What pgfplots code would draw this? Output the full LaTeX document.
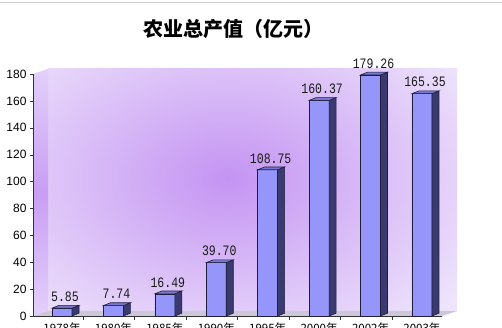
\documentclass[border=0pt]{standalone}
\usepackage{pgfplots}
\pgfplotsset{compat=1.18}
\usepackage{graphicx}
\usepackage{fontspec}
\setmainfont{Liberation Sans}
\newfontfamily\cjk{Noto Sans CJK SC}
\newfontfamily\mono{Liberation Mono}
\definecolor{barfront}{RGB}{150,150,250}
\definecolor{barside}{RGB}{58,58,112}
\definecolor{bartop}{RGB}{120,120,210}
\definecolor{baredge}{RGB}{30,30,60}
\definecolor{wallbase}{RGB}{238,228,252}
\definecolor{wallglow}{RGB}{196,148,242}
\definecolor{sidewall}{RGB}{226,208,250}
\definecolor{floorc}{RGB}{205,200,215}
\pgfdeclareplotmark{blank}{}
\pgfplotstableread{
x y
0 5.85
1 7.74
2 16.49
3 39.70
4 108.75
5 160.37
6 179.26
7 165.35
}\datatab
\begin{document}
\begin{tikzpicture}[x=1pt,y=1pt]
\path[use as bounding box] (0,0) rectangle (502,328);
\fill[white] (0,0) rectangle (502,328);
\draw[gray!35] (0,325.5) -- (502,325.5);
\node[font=\cjk\bfseries\fontsize{20}{22}\selectfont] at (233,299.5) {农业总产值（亿元）};
% back wall
\fill[wallbase] (48,17) rectangle (457,259);
\begin{scope}
\clip (48,17) rectangle (457,259);
\shade[inner color=wallglow, outer color=wallbase] (228,150) ellipse [x radius=290, y radius=190];
\end{scope}
% left wall
\shade[top color=sidewall, bottom color=sidewall, middle color=wallglow!85!sidewall] (33,12) -- (48,17) -- (48,259) -- (33,254) -- cycle;
% floor
\fill[floorc] (33,12) -- (442,12) -- (457,17) -- (48,17) -- cycle;
\begin{axis}[
  at={(33pt,12pt)}, anchor=south west,
  scale only axis, width=409pt, height=242pt,
  xmin=-0.564, xmax=7.39, ymin=0, ymax=180,
  axis lines*=left,
  axis line style={black!80},
  /pgf/number format/assume math mode=true,
  ytick={0,20,...,180},
  yticklabel style={font=\fontsize{12}{13}\selectfont},
  xtick={0,...,7},
  xticklabels={1978年,1980年,1985年,1990年,1995年,2000年,2002年,2003年},
  xticklabel style={font=\cjk\fontsize{11.5}{12}\selectfont},
  major x tick style={draw=none},
  minor xtick={0.41,1.41,...,6.41},
  tick align=outside,
  major tick length=3pt, minor tick length=4pt,
  tick style={black!80},
  clip=false,
]
\addplot[ybar, bar width=20pt, fill=barfront, draw=baredge, line width=0.6pt,
  point meta=y,
  nodes near coords={\scalebox{1}[1.25]{\pgfmathprintnumber[fixed,fixed zerofill,precision=2]{\pgfplotspointmeta}}},
  every node near coord/.append style={font=\mono\fontsize{11.5}{12}\selectfont, anchor=south, xshift=3pt, yshift=3pt, text=black!90}]
  table {\datatab};
\addplot[scatter, only marks, mark=blank, point meta=x,
  visualization depends on={rawy \as \rawy},
  scatter/@pre marker code/.code={%
    \pgfmathsetmacro\h{-\rawy*1.344444}%
    \pgfmathsetmacro\hh{2.8-\rawy*1.344444}%
    \filldraw[fill=barside,draw=baredge,line width=0.6pt] (10pt,0pt) -- (17pt,2.8pt) -- (17pt,\hh pt) -- (10pt,\h pt) -- cycle;
    \filldraw[fill=bartop,draw=baredge,line width=0.6pt] (-10pt,0pt) -- (10pt,0pt) -- (17pt,2.8pt) -- (-3pt,2.8pt) -- cycle;
  },
  scatter/@post marker code/.code={}]
  table {\datatab};
\end{axis}
\end{tikzpicture}
\end{document}
